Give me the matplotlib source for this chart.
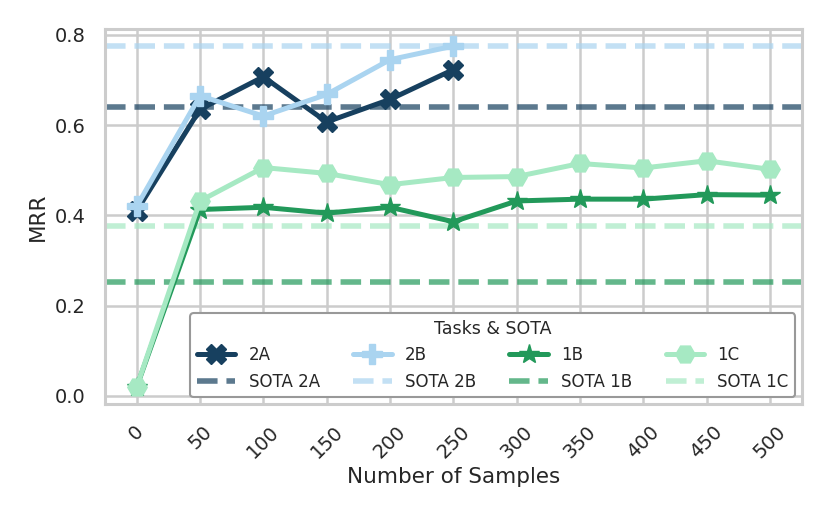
import matplotlib
matplotlib.use("Agg")
import matplotlib.pyplot as plt
import seaborn as sns

# samples on x axis
samples = [0, 50, 100, 150, 200, 250, 300, 350, 400, 450, 500]

mrr_2a = [0.41, 0.635, 0.707, 0.607, 0.657, 0.723]
mrr_2b = [0.42, 0.665, 0.62, 0.668, 0.745, 0.775]
mrr_1b = [0.02, 0.413, 0.418, 0.405, 0.418, 0.386, 0.432, 0.436, 0.436, 0.446, 0.445]
mrr_1c = [0.02, 0.432, 0.506, 0.493, 0.468, 0.484, 0.486, 0.515, 0.505, 0.521, 0.502]

sota = {"2A": 0.64, "2B": 0.775, "1B": 0.252, "1C": 0.377}

colors = {"2A": "#17405f", "2B": "#aad4f0", "1B": "#22995a", "1C": "#a6e9c3"}
markers = {"2A": "X", "2B": "P", "1B": "*", "1C": "H"}
series = {"2A": mrr_2a, "2B": mrr_2b, "1B": mrr_1b, "1C": mrr_1c}

sns.set_theme(style="whitegrid")
plt.rcParams["font.family"] = ["DejaVu Sans"]

fig = plt.figure(figsize=(8.3, 5.19), dpi=100)
ax = fig.add_axes([0.1265, 0.2216, 0.8395, 0.7224])

handles = []
for task in ["2A", "2B", "1B", "1C"]:
    ys = series[task]
    h, = ax.plot(samples[:len(ys)], ys, color=colors[task], marker=markers[task],
                 markersize=14 if task != "1B" else 15, linewidth=3.6, label=task, zorder=3)
    s = ax.axhline(sota[task], color=colors[task], alpha=0.7, linewidth=4,
                   linestyle="--", label="SOTA " + task, zorder=2)
    handles += [h, s]

ax.set_xticks(samples)
ax.set_xticklabels([str(s) for s in samples], rotation=45, fontsize=14)
ax.set_yticks([0.0, 0.2, 0.4, 0.6, 0.8])
ax.set_yticklabels(["0.0", "0.2", "0.4", "0.6", "0.8"], fontsize=14)
ax.tick_params(axis="y", pad=8)
ax.tick_params(axis="x", pad=7)
ax.set_xlabel("Number of Samples", fontsize=15.5)
ax.set_ylabel("MRR", fontsize=15.5, labelpad=5)
ax.grid(True, color="#cccccc", linewidth=1.8)
for sp in ax.spines.values():
    sp.set_color("#cccccc")
    sp.set_linewidth(2.2)

leg = ax.legend(handles=handles, ncol=4, loc="lower right", title="Tasks & SOTA",
                fontsize=12, title_fontsize=12.5, handlelength=2.3,
                frameon=True, borderaxespad=0.4)
leg.get_frame().set_edgecolor("#999999")
leg.get_frame().set_linewidth(1.5)
leg.get_frame().set_alpha(1.0)

fig.savefig("out.png", dpi=100)
